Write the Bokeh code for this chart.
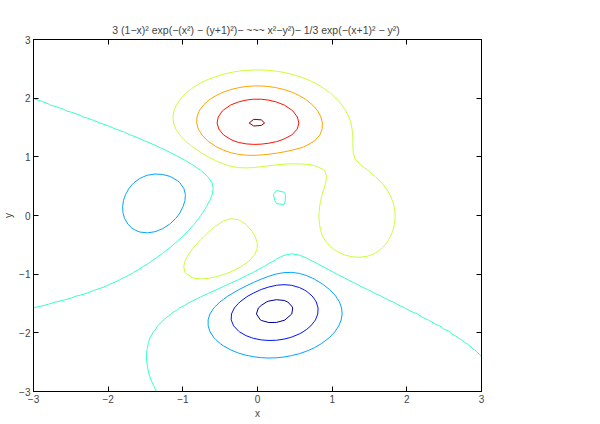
import numpy as np
from bokeh.plotting import figure
from bokeh.models import LinearAxis, Range1d, FixedTicker
from bokeh.embed import file_html
from bokeh.resources import INLINE

# --- data (MATLAB peaks surface on ezcontour's 60x60 grid) ---
x_range_vals = [-3, 3]
y_range_vals = [-3, 3]
grid_points = 60
levels = [-6, -4, -2, 0, 2, 4, 6, 8]
level_colors = ["#00008f", "#0012ff", "#00a4ff", "#36ffc9", "#c9ff36", "#ffa400", "#ff1200", "#800000"]
tick_values = [-3, -2, -1, 0, 1, 2, 3]
title_text = "3 (1\u2212x)\u00b2 exp(\u2212(x\u00b2) \u2212 (y+1)\u00b2)\u2212  ~~~ x\u00b2\u2212y\u00b2)\u2212 1/3 exp(\u2212(x+1)\u00b2 \u2212 y\u00b2)"

xs = np.linspace(x_range_vals[0], x_range_vals[1], grid_points)
ys = np.linspace(y_range_vals[0], y_range_vals[1], grid_points)
X, Y = np.meshgrid(xs, ys)
Z = (3 * (1 - X) ** 2 * np.exp(-X ** 2 - (Y + 1) ** 2)
     - 10 * (X / 5 - X ** 3 - Y ** 5) * np.exp(-X ** 2 - Y ** 2)
     - 1 / 3 * np.exp(-(X + 1) ** 2 - Y ** 2))

FONT = "Liberation Sans"

p = figure(width=600, height=424, output_backend="svg", toolbar_location=None,
           x_range=Range1d(*x_range_vals), y_range=Range1d(*y_range_vals),
           min_border_left=33, min_border_right=119, min_border_top=39, min_border_bottom=33,
           background_fill_color="white", border_fill_color="white")
p.grid.visible = False
p.outline_line_color = "black"
p.outline_line_width = 1

p.title.text = title_text
p.title.align = "center"
p.title.text_font = FONT
p.title.text_font_size = "10.5px"
p.title.text_font_style = "normal"
p.title.offset = 0
p.title.standoff = 8

p.contour(xs, ys, Z, levels, line_color=level_colors, line_width=1, fill_color=None)

for ax in [p.xaxis[0], p.yaxis[0]]:
    ax.ticker = FixedTicker(ticks=tick_values)
    ax.major_tick_in = 5
    ax.major_tick_out = 0
    ax.minor_tick_in = 0
    ax.minor_tick_out = 0
    ax.axis_line_color = "black"
    ax.major_label_text_font = FONT
    ax.major_label_text_font_size = "10px"
    ax.axis_label_text_font = FONT
    ax.axis_label_text_font_size = "10px"
    ax.axis_label_text_font_style = "normal"
    ax.major_label_standoff = 3
    ax.axis_label_standoff = 2

p.xaxis[0].axis_label = "x"
p.yaxis[0].axis_label = "y"
p.yaxis[0].major_label_orientation = "horizontal"

for loc in ["above", "right"]:
    a = LinearAxis(ticker=FixedTicker(ticks=tick_values), major_tick_in=5, major_tick_out=0,
                   minor_tick_in=0, minor_tick_out=0, major_label_text_color=None,
                   major_label_standoff=0, axis_line_color="black")
    p.add_layout(a, loc)

open("out.html", "w").write(file_html(p, INLINE))
